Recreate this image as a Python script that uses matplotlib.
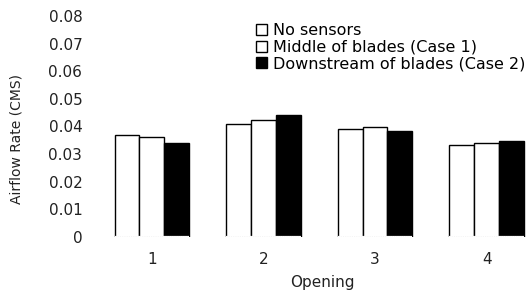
import matplotlib
matplotlib.use("Agg")
import matplotlib.pyplot as plt
import numpy as np
from matplotlib.patches import Patch

plt.rcParams['font.family'] = ['DejaVu Sans']

openings = ["1", "2", "3", "4"]
series_names = ["No sensors", "Middle of blades (Case 1)", "Downstream of blades (Case 2)"]
no_sensors = [0.0369, 0.0408, 0.0390, 0.0332]
middle_blades = [0.0363, 0.0424, 0.0398, 0.0339]
downstream_blades = [0.0339, 0.0442, 0.0385, 0.0348]
yticks = [0, 0.01, 0.02, 0.03, 0.04, 0.05, 0.06, 0.07, 0.08]
ytick_labels = ["0", "0.01", "0.02", "0.03", "0.04", "0.05", "0.06", "0.07", "0.08"]

fig = plt.figure(figsize=(5.3, 2.9), dpi=100)
ax = fig.add_axes([0.179, 0.183, 0.817, 0.762])

x = np.arange(1, len(openings) + 1)
w = 0.222
colors = ["white", "white", "black"]
data = [no_sensors, middle_blades, downstream_blades]
for i, (vals, c) in enumerate(zip(data, colors)):
    ax.bar(x + (i - 1) * w, vals, width=w, color=c, edgecolor="black", linewidth=1.0, zorder=2)

# dotted baseline under each group
for xi in x:
    ax.hlines(0, xi - 1.5 * w, xi + 1.5 * w, colors="white", linewidth=1.6, zorder=3)
    ax.hlines(0, xi - 1.5 * w, xi + 1.5 * w, colors="#555555", linewidth=0.8, linestyles=(0, (1, 1)), zorder=4)

ax.set_xlim(0.49, 4.37)
ax.set_ylim(0, 0.08)
ax.set_yticks(yticks)
ax.set_yticklabels(ytick_labels)
ax.set_xticks(x)
ax.set_xticklabels(openings)
for s in ax.spines.values():
    s.set_visible(False)
ax.tick_params(axis="both", length=0, labelsize=11, colors="#222222")
ax.tick_params(axis="y", pad=9)
ax.tick_params(axis="x", pad=11)

ax.set_xlabel("Opening", fontsize=11, color="#222222")
ax.xaxis.set_label_coords(0.525, -0.172)
ax.set_ylabel("Airflow Rate (CMS)", fontsize=10, color="#222222")
ax.yaxis.set_label_coords(-0.164, 0.441)

handles = [Patch(facecolor=c, edgecolor="black", linewidth=1.0) for c in colors]
ax.legend(handles, series_names, loc="upper left", bbox_to_anchor=(0.372, 0.966),
          frameon=False, fontsize=11.5, handlelength=0.7, handleheight=0.7,
          handletextpad=0.35, labelspacing=0.08, borderaxespad=0, borderpad=0)

fig.savefig("out.png", dpi=100)
